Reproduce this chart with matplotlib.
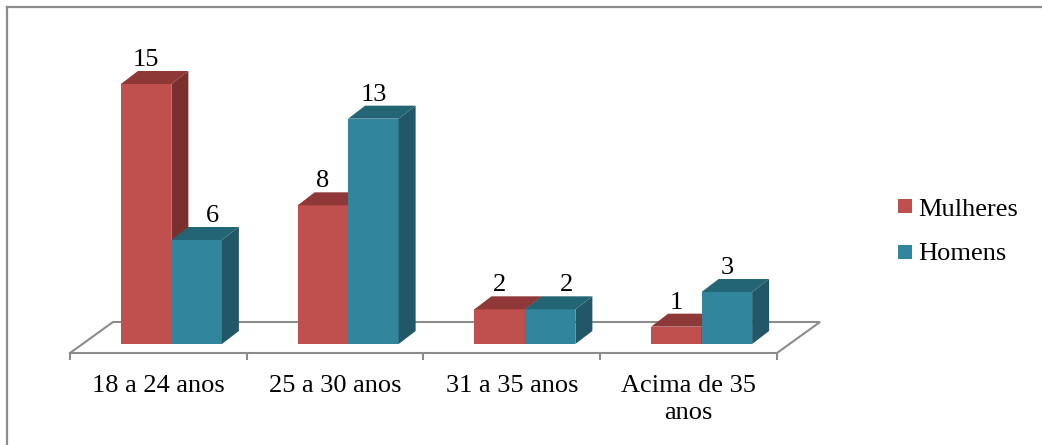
import matplotlib
matplotlib.use("Agg")
import matplotlib.pyplot as plt
from matplotlib.patches import Polygon, Rectangle
from matplotlib.lines import Line2D

# ---- data ----
categories = ["18 a 24 anos", "25 a 30 anos", "31 a 35 anos", "Acima de 35\nanos"]
series_names = ["Mulheres", "Homens"]
mulheres = [15, 8, 2, 1]
homens = [6, 13, 2, 3]

# ---- style / layout ----
front_colors = ["#C0504D", "#31859C"]
side_colors = ["#7A302E", "#215767"]
top_colors = ["#8E3937", "#246575"]
label_dx_px = [[0, 0, 0, 0], [16, 0, 16, 0]]
grey = "#8C8C8C"
FONT = ["Liberation Serif", "DejaVu Serif"]
FS = 19

W, H = 1042, 445
fig = plt.figure(figsize=(W / 100, H / 100), dpi=100)

# axes mapping: x -0.5..3.5 -> px 70..777 ; y value 0 at px 344, 17.33 px/unit
px_per_y = 260 / 15.0
ylo, yhi = -1.0, 18.0
pix_lo = 344 + px_per_y * 1.0
pix_hi = 344 - px_per_y * 18.0
ax = fig.add_axes([70 / W, (H - pix_lo) / H, 707 / W, (pix_lo - pix_hi) / H])
ax.set_xlim(-0.5, 3.5)
ax.set_ylim(ylo, yhi)
ax.axis("off")

px_per_x = 707 / 4.0
bw = 50.5 / px_per_x
gshift = 13 / px_per_x
ddx = 17 / px_per_x
ddy = 13 / px_per_y

# floor
fy_front = -9 / px_per_y
fy_back = 22 / px_per_y
fdx = 43 / px_per_x
n = len(categories)
floor = [(-0.5, fy_front), (n - 0.5, fy_front), (n - 0.5 + fdx, fy_back),
         (-0.5 + fdx, fy_back), (-0.5, fy_front)]
ax.plot([p[0] for p in floor], [p[1] for p in floor], color=grey, lw=1.5,
        zorder=1, solid_joinstyle="miter", clip_on=False)
ax.vlines([i - 0.5 for i in range(n + 1)], fy_front - 7 / px_per_y, fy_front,
          color=grey, lw=1.5, zorder=1, clip_on=False)

all_series = [mulheres, homens]
for s, vals in enumerate(all_series):
    xs = [i + gshift + (s - 0.5) * bw for i in range(n)]
    z = 3 + s
    ax.bar(xs, vals, width=bw, color=front_colors[s], zorder=z, linewidth=0)
    for i, (x, v) in enumerate(zip(xs, vals)):
        l, r = x - bw / 2, x + bw / 2
        side = Polygon([(r, 0), (r + ddx, ddy), (r + ddx, v + ddy), (r, v)],
                       closed=True, facecolor=side_colors[s], edgecolor="none",
                       zorder=z, clip_on=False)
        top = Polygon([(l, v), (l + ddx, v + ddy), (r + ddx, v + ddy), (r, v)],
                      closed=True, facecolor=top_colors[s], edgecolor="none",
                      zorder=z, clip_on=False)
        ax.add_patch(side)
        ax.add_patch(top)
        ax.annotate(str(v), xy=(x, v + ddy), xytext=(label_dx_px[s][i] * 0.72, 3.6),
                    textcoords="offset points", ha="center", va="baseline",
                    fontsize=FS, family=FONT, color="black", zorder=10)

# category labels
for i, c in enumerate(categories):
    ax.text(i, (344 - 375) / px_per_y, c, ha="center", va="top", fontsize=FS,
            family=FONT, linespacing=1.3, color="black", clip_on=False)

# legend (figure pixel coords)
for s, name in enumerate(series_names):
    sq_top = [199, 245][s]
    fig.patches.append(Rectangle((898 / W, (H - sq_top - 14) / H), 14 / W, 14 / H,
                                 transform=fig.transFigure, facecolor=front_colors[s],
                                 edgecolor="none"))
    fig.text(918 / W, (H - [216, 260][s]) / H, name, ha="left", va="baseline",
             fontsize=FS, family=FONT, color="black")

# outer border (top and left visible)
fig.add_artist(Line2D([6.5 / W, 1.0], [1 - 6.5 / H, 1 - 6.5 / H], color=grey, lw=1.6,
                      transform=fig.transFigure))
fig.add_artist(Line2D([6.5 / W, 6.5 / W], [0, 1 - 6.5 / H], color=grey, lw=1.6,
                      transform=fig.transFigure))

fig.savefig("out.png", dpi=100, facecolor="white")
